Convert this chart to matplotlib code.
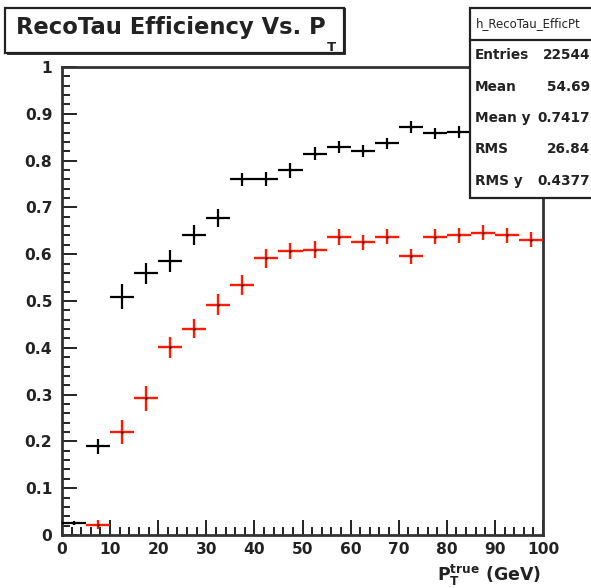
import numpy as np
import matplotlib
matplotlib.use("Agg")
import matplotlib.pyplot as plt
from matplotlib.patches import Rectangle
from matplotlib.lines import Line2D
from matplotlib.ticker import MultipleLocator

plt.rcParams['font.family'] = ['DejaVu Sans']
plt.rcParams['mathtext.fontset'] = 'custom'
plt.rcParams['mathtext.rm'] = 'DejaVu Sans:bold'
plt.rcParams['mathtext.bf'] = 'DejaVu Sans:bold'
plt.rcParams['mathtext.it'] = 'DejaVu Sans:bold'

# ---- data ----
bin_edges = np.arange(0, 105, 5)
bin_centers = (bin_edges[:-1] + bin_edges[1:]) / 2
black_vals = [0.026, 0.190, 0.509, 0.559, 0.585, 0.641, 0.678, 0.760, 0.760, 0.779,
              0.815, 0.829, 0.821, 0.837, 0.872, 0.858, 0.861, 0.870, 0.875, 0.880]
black_errs = [0.004, 0.016, 0.027, 0.023, 0.023, 0.022, 0.019, 0.014, 0.015, 0.016,
              0.013, 0.013, 0.013, 0.012, 0.012, 0.012, 0.012, 0.012, 0.012, 0.012]
red_vals = [np.nan, 0.022, 0.220, 0.292, 0.401, 0.441, 0.4925, 0.534, 0.591, 0.606,
            0.610, 0.637, 0.626, 0.637, 0.596, 0.637, 0.641, 0.646, 0.641, 0.631]
red_errs = [0.0, 0.009, 0.025, 0.026, 0.023, 0.021, 0.023, 0.021, 0.021, 0.017,
            0.018, 0.017, 0.016, 0.016, 0.016, 0.016, 0.016, 0.016, 0.016, 0.016]
stats_labels = ["Entries", "Mean", "Mean y", "RMS", "RMS y"]
stats_values = ["22544", "54.69", "0.7417", "26.84", "0.4377"]
hist_name = "h_RecoTau_EfficPt"
title_main = "RecoTau Efficiency Vs. P"
title_sub = "T"
xlabel = r"P$_{\mathrm{T}}^{\mathrm{true}}$ (GeV)"
x_ticks = list(range(0, 101, 10))
y_ticks = [0, 0.1, 0.2, 0.3, 0.4, 0.5, 0.6, 0.7, 0.8, 0.9, 1]

W, H = 591, 588
fig = plt.figure(figsize=(W / 100, H / 100), dpi=100)
def fx(x): return x / W
def fy(y): return 1 - y / H

ax = fig.add_axes([fx(62), fy(535), fx(543) - fx(62), fy(67) - fy(535)])
ax.set_xlim(0, 100)
ax.set_ylim(0, 1)

half_w = np.diff(bin_edges) / 2
ax.errorbar(bin_centers, black_vals, xerr=half_w, yerr=black_errs, fmt='none',
            ecolor='black', elinewidth=1.6, capsize=0, zorder=3)
ax.errorbar(bin_centers, red_vals, xerr=half_w, yerr=red_errs, fmt='none',
            ecolor='#ff1a00', elinewidth=1.7, capsize=0, zorder=3)
ax.plot(bin_centers, black_vals, 's', color='black', ms=1.4, mew=0, zorder=4)
ax.plot(bin_centers, red_vals, 's', color='black', ms=1.4, mew=0, zorder=4)

ax.set_xticks(x_ticks)
ax.set_yticks(y_ticks)
ax.set_xticklabels([str(t) for t in x_ticks])
ax.set_yticklabels(["0" if t == 0 else ("1" if t == 1 else f"{t:g}") for t in y_ticks])
ax.xaxis.set_minor_locator(MultipleLocator(2))
ax.yaxis.set_minor_locator(MultipleLocator(0.02))
ax.tick_params(which='both', direction='in', top=False, right=False, width=1.4, color='#222222')
ax.tick_params(which='major', length=11, labelsize=11.2)
ax.tick_params(which='minor', length=6)
ax.tick_params(axis='y', which='major', pad=7)
ax.tick_params(axis='x', which='major', pad=5)
for lab in ax.get_xticklabels() + ax.get_yticklabels():
    lab.set_fontweight('bold')
    lab.set_color('#222222')
for sp in ax.spines.values():
    sp.set_linewidth(2.0)
    sp.set_color('#333333')

fig.text(fx(541), fy(581), xlabel, ha='right', va='baseline', fontsize=12.5,
         fontweight='bold', color='#222222')

# title box
fig.patches.append(Rectangle((fx(7), fy(55)), fx(346) - fx(7), fy(8) - fy(55),
                             transform=fig.transFigure, facecolor='#333333',
                             edgecolor='none', zorder=5))
fig.patches.append(Rectangle((fx(5), fy(53)), fx(344) - fx(5), fy(8) - fy(53),
                             transform=fig.transFigure, facecolor='white',
                             edgecolor='#222222', lw=1.6, zorder=6))
t_main = fig.text(fx(16), fy(34), title_main, ha='left', va='baseline', fontsize=16.3,
                  fontweight='bold', color='#222222', zorder=7)
fig.canvas.draw()
bb = t_main.get_window_extent()
fig.text((bb.x1 + 1) / W, fy(51), title_sub, ha='left', va='baseline', fontsize=9.5,
         fontweight='bold', color='#222222', zorder=7)

# stats box
fig.patches.append(Rectangle((fx(470), fy(198)), fx(600) - fx(470), fy(8) - fy(198),
                             transform=fig.transFigure, facecolor='white',
                             edgecolor='#222222', lw=1.6, zorder=6))
fig.lines.append(Line2D([fx(470), fx(600)], [fy(40), fy(40)], transform=fig.transFigure,
                        color='#222222', lw=1.6, zorder=7))
fig.text(fx(528), fy(24), hist_name, ha='center', va='center', fontsize=8.5,
         color='#222222', zorder=7)
row_y = [55, 87, 118, 149, 181]
for lab, val, yy in zip(stats_labels, stats_values, row_y):
    fig.text(fx(475), fy(yy), lab, ha='left', va='center', fontsize=9.8,
             fontweight='bold', color='#222222', zorder=7)
    fig.text(fx(590), fy(yy), val, ha='right', va='center', fontsize=9.8,
             fontweight='bold', color='#222222', zorder=7)

fig.savefig("out.png", dpi=100)
